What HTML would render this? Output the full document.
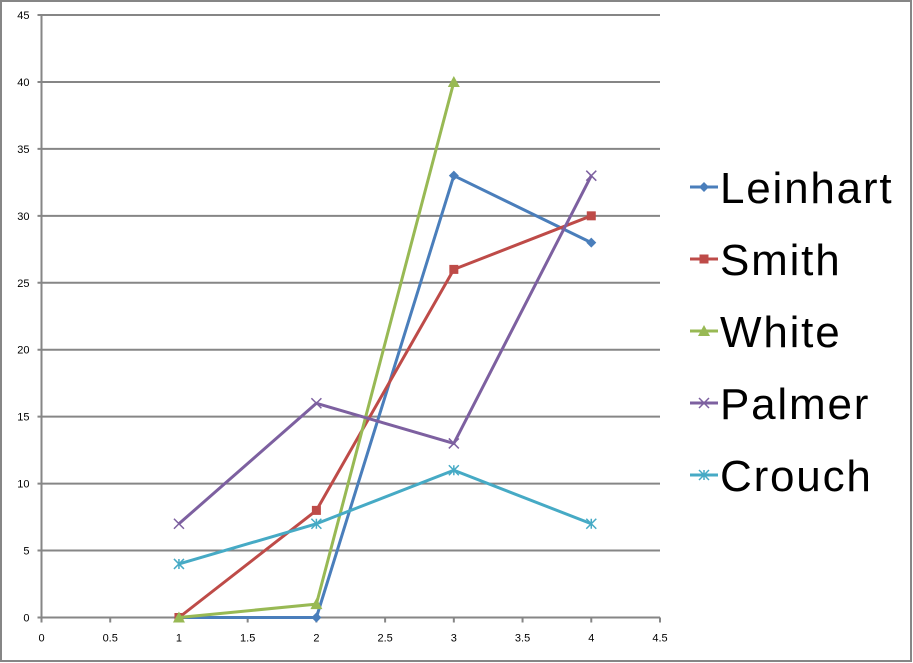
<!DOCTYPE html>
<html><head><meta charset="utf-8"><style>
body{margin:0;background:#fff;}
svg{display:block;font-family:"Liberation Sans",sans-serif;}
</style></head><body>
<svg width="913" height="663">
<rect x="1" y="1" width="910" height="660" fill="#fff" stroke="#868686" stroke-width="2"/>
<g id="grid"></g><g id="series"></g><g id="legend"></g>
</svg>
<script>
const xTicks=[0,0.5,1,1.5,2,2.5,3,3.5,4,4.5];
const yTicks=[0,5,10,15,20,25,30,35,40,45];
const seriesNames=["Leinhart","Smith","White","Palmer","Crouch"];
const xValues=[1,2,3,4];
const leinhart=[0,0,33,28];
const smith=[0,8,26,30];
const white=[0,1,40];
const palmer=[7,16,13,33];
const crouch=[4,7,11,7];
const seriesData=[leinhart,smith,white,palmer,crouch];
const colors=["#4a7ebb","#be4b48","#98b954","#7d60a0","#46aac5"];
const markers=["diamond","square","triangle","x","star"];
const NS="http://www.w3.org/2000/svg";
const X0=41.5,X1=660,Y0=617.5,Y1=15;
const xs=v=>X0+(v-0)/4.5*(X1-X0);
const ys=v=>Y0-(v-0)/45*(Y0-Y1);
function mk(tag,attrs,parent){const e=document.createElementNS(NS,tag);for(const k in attrs)e.setAttribute(k,attrs[k]);parent.appendChild(e);return e;}
const grid=document.getElementById('grid');
yTicks.forEach(t=>{
  const l=mk('line',{x1:X0-4,x2:X1,y1:ys(t),y2:ys(t),stroke:'#868686','stroke-width':2},grid);
  
  
  const tx=mk('text',{x:X0-12,y:ys(t)+4,'text-anchor':'end','font-size':11,fill:'#000'},grid);
  tx.textContent=t;
  
  
});
const ya=mk('line',{x1:X0,x2:X0,y1:Y1,y2:Y0,stroke:'#868686','stroke-width':2},grid);


xTicks.forEach(t=>{
  const l=mk('line',{x1:xs(t),x2:xs(t),y1:Y0,y2:Y0+5,stroke:'#868686','stroke-width':2},grid);
  
  
  const tx=mk('text',{x:xs(t),y:Y0+24,'text-anchor':'middle','font-size':11,fill:'#000'},grid);
  tx.textContent=t;
  
  
});
function marker(type,x,y,c,parent,s){
  s=s||5;let e;
  if(type==='diamond')e=mk('path',{d:`M${x} ${y-s}L${x+s} ${y}L${x} ${y+s}L${x-s} ${y}Z`,fill:c},parent);
  else if(type==='square')e=mk('rect',{x:x-s+0.5,y:y-s+0.5,width:2*s-1,height:2*s-1,fill:c},parent);
  else if(type==='triangle')e=mk('path',{d:`M${x} ${y-s-1}L${x+s+1} ${y+s}L${x-s-1} ${y+s}Z`,fill:c},parent);
  else if(type==='x')e=mk('path',{d:`M${x-s} ${y-s}L${x+s} ${y+s}M${x+s} ${y-s}L${x-s} ${y+s}`,stroke:c,'stroke-width':1.5},parent);
  else e=mk('path',{d:`M${x-s} ${y-s}L${x+s} ${y+s}M${x+s} ${y-s}L${x-s} ${y+s}M${x} ${y-s}L${x} ${y+s}`,stroke:c,'stroke-width':1.5},parent);
  return e;
}
const sg=document.getElementById('series');
seriesData.forEach((d,i)=>{
  const g=mk('g',{},sg);
  
  
  const pts=d.map((v,j)=>xs(xValues[j])+','+ys(v)).join(' ');
  const pl=mk('polyline',{points:pts,fill:'none',stroke:colors[i],'stroke-width':3,'stroke-linejoin':'round'},g);
  
  
  d.forEach((v,j)=>{
    const m=marker(markers[i],xs(xValues[j]),ys(v),colors[i],g);
    
    
  });
});
const lg=document.getElementById('legend');
seriesNames.forEach((n,i)=>{
  const y=187+i*72;
  const g=mk('g',{},lg);
  
  
  mk('line',{x1:690,x2:718,y1:y,y2:y,stroke:colors[i],'stroke-width':3},g);
  marker(markers[i],704,y,colors[i],g);
  const t=mk('text',{x:720,y:y+16,'font-size':44,'letter-spacing':1.8,fill:'#000'},g);
  t.textContent=n;
  
  
});
</script>
</body></html>
